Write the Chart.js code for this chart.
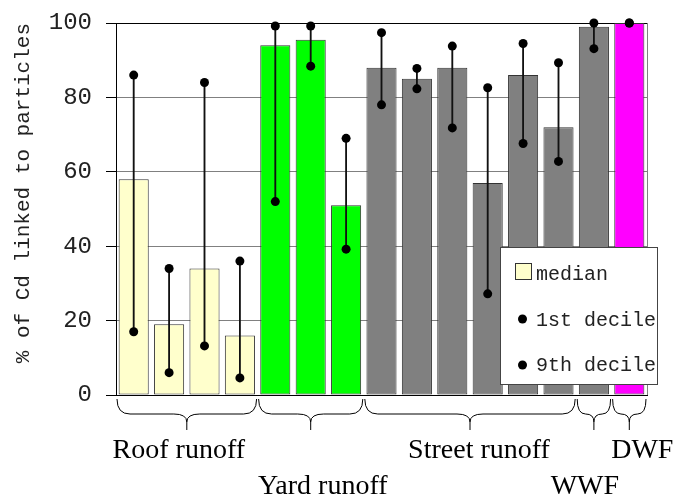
<!DOCTYPE html>
<html>
<head>
<meta charset="utf-8">
<script src="https://cdn.jsdelivr.net/npm/chart.js@4/dist/chart.umd.min.js"></script>
<style>
  html, body { margin: 0; padding: 0; background: #fff; }
  #wrap { width: 682px; height: 499px; }
</style>
</head>
<body>
<div id="wrap"><canvas id="cd-chart"></canvas></div>
<script>
// Valeurs (% de Cd lié aux particules)
const categories = ['Roof 1', 'Roof 2', 'Roof 3', 'Roof 4',
  'Yard 1', 'Yard 2', 'Yard 3',
  'Street 1', 'Street 2', 'Street 3', 'Street 4', 'Street 5', 'Street 6',
  'WWF', 'DWF'];
const medianValues = [58, 19, 34, 16, 94, 95.5, 51, 88, 85, 88, 57, 86, 72, 99, 100];
const decile1Values = [17, 6, 13.2, 4.6, 52, 88.4, 39.2, 78, 82.3, 71.8, 27.2, 67.6, 62.8, 93.1, 100];
const decile9Values = [86, 34, 84, 36, 99.2, 99.2, 69, 97.4, 87.8, 93.8, 82.6, 94.5, 89.3, 100, 100];
const groupNames = ['Roof runoff', 'Yard runoff', 'Street runoff', 'WWF', 'DWF'];
const groupSizes = [4, 3, 6, 1, 1];
const yTickValues = [0, 20, 40, 60, 80, 100];
const legendLabels = ['median', '1st decile', '9th decile'];

// styles
const groupColors = ['#FFFFCC', '#00FF00', '#808080', '#808080', '#FF00FF'];
const labelRow = [0, 1, 0, 1, 0];
const labelDx = [-8, 12, 9, -9, 13];
const barColors = [];
groupSizes.forEach((n, g) => { for (let i = 0; i < n; i++) barColors.push(groupColors[g]); });
const whiskers = decile1Values.map((v, i) => [v, decile9Values[i]]);

function drawBrace(ctx, x0, x1, yTop, yTip) {
  const yMid = yTop + 15;
  const xm = (x0 + x1) / 2;
  const r = Math.min(13, (x1 - x0) / 4);
  ctx.beginPath();
  ctx.moveTo(x0, yTop);
  ctx.quadraticCurveTo(x0, yMid, x0 + r, yMid);
  ctx.lineTo(xm - r, yMid);
  ctx.quadraticCurveTo(xm, yMid, xm, yMid + 8);
  ctx.lineTo(xm, yTip);
  ctx.moveTo(xm, yMid + 8);
  ctx.quadraticCurveTo(xm, yMid, xm + r, yMid);
  ctx.lineTo(x1 - r, yMid);
  ctx.quadraticCurveTo(x1, yMid, x1, yTop);
  ctx.stroke();
}

const extrasPlugin = {
  id: 'extras',
  afterDraw(chart) {
    const ctx = chart.ctx;
    const x = chart.scales.x;
    const area = chart.chartArea;
    ctx.save();
    // bord droit
    ctx.strokeStyle = '#808080';
    ctx.lineWidth = 1;
    ctx.beginPath();
    ctx.moveTo(area.right + 0.5, area.top);
    ctx.lineTo(area.right + 0.5, area.bottom);
    ctx.stroke();

    // accolades + noms de groupes
    const half = (x.getPixelForValue(1) - x.getPixelForValue(0)) / 2;
    let start = 0;
    ctx.strokeStyle = '#000';
    ctx.fillStyle = '#000';
    ctx.font = '28px "Liberation Serif"';
    ctx.textAlign = 'center';
    ctx.textBaseline = 'alphabetic';
    groupSizes.forEach((n, g) => {
      const x0 = x.getPixelForValue(start) - half + 1;
      const x1 = x.getPixelForValue(start + n - 1) + half - 1;
      drawBrace(ctx, x0, x1, area.bottom + 4, area.bottom + 35);
      const yText = labelRow[g] === 0 ? 458 : 494;
      ctx.fillText(groupNames[g], (x0 + x1) / 2 + labelDx[g], yText);
      start += n;
    });

    // légende
    ctx.fillStyle = '#fff';
    ctx.strokeStyle = '#444';
    ctx.fillRect(500, 247, 157, 137);
    ctx.strokeRect(500.5, 247.5, 157, 137);
    ctx.fillStyle = groupColors[0];
    ctx.fillRect(515, 263, 16, 16);
    ctx.strokeStyle = '#333';
    ctx.strokeRect(515.5, 263.5, 16, 16);
    ctx.fillStyle = '#000';
    [319, 365].forEach(cy => {
      ctx.beginPath();
      ctx.arc(522.5, cy, 4.5, 0, Math.PI * 2);
      ctx.fill();
    });
    ctx.font = '20px "Liberation Mono"';
    ctx.textAlign = 'left';
    ctx.fillStyle = '#222';
    ctx.fillText(legendLabels[0], 536, 280);
    ctx.fillText(legendLabels[1], 536, 326);
    ctx.fillText(legendLabels[2], 536, 371);
    ctx.restore();
  }
};

const ctx = document.getElementById('cd-chart').getContext('2d');
const cdChart = new Chart(ctx, {
  type: 'bar',
  data: {
    labels: categories,
    datasets: [
      {
        label: legendLabels[1],
        type: 'line',
        data: decile1Values,
        showLine: false,
        pointRadius: 4.5,
        pointBackgroundColor: '#000',
        pointBorderWidth: 0,
        clip: false,
        order: 0
      },
      {
        label: legendLabels[2],
        type: 'line',
        data: decile9Values,
        showLine: false,
        pointRadius: 4.5,
        pointBackgroundColor: '#000',
        pointBorderWidth: 0,
        clip: false,
        order: 0
      },
      {
        label: 'range',
        data: whiskers,
        backgroundColor: '#111',
        borderWidth: 0,
        barThickness: 1.2,
        grouped: false,
        order: 1
      },
      {
        label: legendLabels[0],
        data: medianValues,
        backgroundColor: barColors,
        borderColor: '#333',
        borderWidth: 1,
        borderSkipped: false,
        categoryPercentage: 1,
        barPercentage: 0.85,
        grouped: false,
        order: 2
      }
    ]
  },
  options: {
    responsive: true,
    maintainAspectRatio: false,
    animation: false,
    events: [],
    layout: { padding: { top: 23, right: 35, bottom: 104, left: 0 } },
    plugins: {
      legend: { display: false },
      tooltip: { enabled: false }
    },
    scales: {
      x: {
        ticks: { display: false },
        grid: { display: false },
        border: { display: true, color: '#000', width: 1 },
        afterFit: (scale) => { scale.height = 0; }
      },
      y: {
        min: 0,
        max: 100,
        afterBuildTicks: (scale) => { scale.ticks = yTickValues.map(v => ({ value: v })); },
        afterFit: (scale) => {
          scale.width = 116;
          scale.paddingTop = 0;
          scale.paddingBottom = 0;
        },
        ticks: {
          padding: 14,
          color: '#222',
          font: { family: '"Liberation Mono"', size: 24 }
        },
        grid: {
          color: (c) => (c.tick && (c.tick.value === 0 || c.tick.value === 100)) ? '#000' : '#808080',
          tickColor: '#000',
          tickLength: 10,
          lineWidth: 1
        },
        border: { display: true, color: '#000', width: 1 },
        title: {
          display: true,
          text: '% of Cd linked to particles',
          align: 'end',
          color: '#222',
          font: { family: '"Liberation Mono"', size: 21 },
          padding: { top: 11, bottom: 12 }
        }
      }
    }
  },
  plugins: [extrasPlugin]
});
</script>
</body>
</html>
